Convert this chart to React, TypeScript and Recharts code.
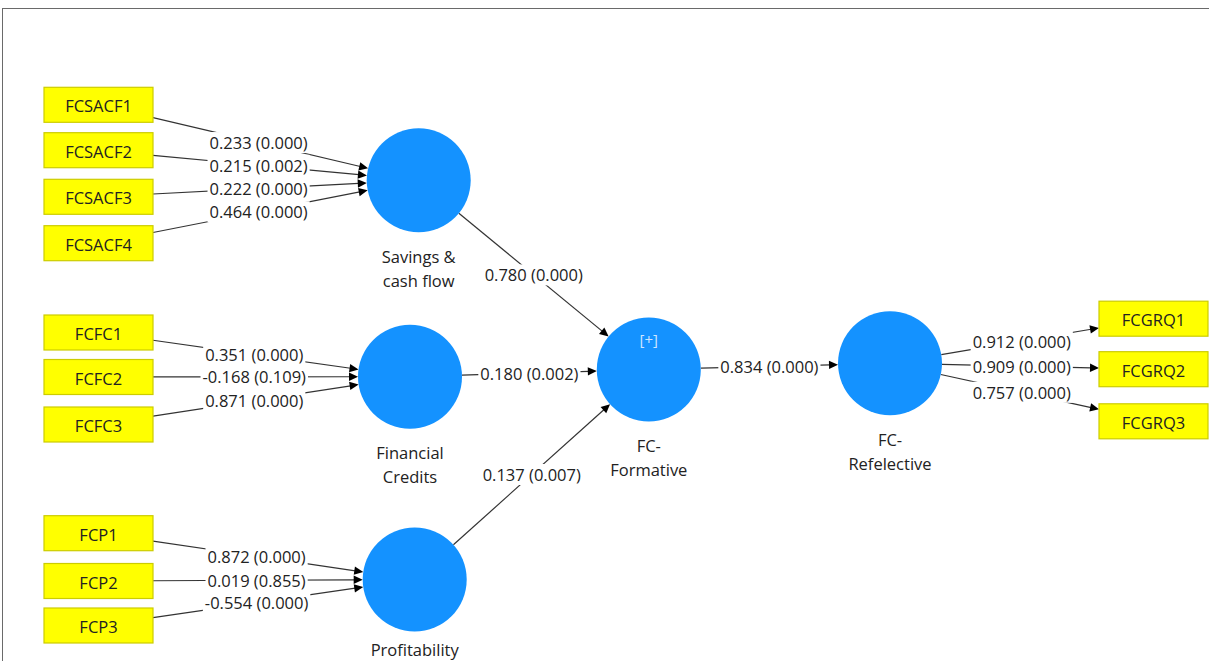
import React from 'react';
import { ScatterChart, Scatter, XAxis, YAxis, ReferenceLine } from 'recharts';

const W = 1209;
const H = 661;

// Indicator (manifest variable) boxes, layout units
const indicatorNames = ['FCSACF1', 'FCSACF2', 'FCSACF3', 'FCSACF4', 'FCFC1', 'FCFC2', 'FCFC3', 'FCP1', 'FCP2', 'FCP3', 'FCGRQ1', 'FCGRQ2', 'FCGRQ3'];
const indicatorX = [98.5, 98.5, 98.5, 98.5, 98.5, 98.5, 98.5, 98.5, 98.5, 98.5, 1153.5, 1153.5, 1153.5];
const indicatorY = [104.8, 150.2, 196.8, 243.2, 332.5, 377, 424.5, 533.2, 581, 625.5, 318.7, 369.2, 421.3];

// Constructs (latent variables)
const constructIds = ['SCF', 'FCR', 'PRO', 'FCF', 'FCRE'];
const constructLabels = [['Savings &', 'cash flow'], ['Financial', 'Credits'], ['Profitability'], ['FC-', 'Formative'], ['FC-', 'Refelective']];
const constructX = [418.7, 410, 414.7, 648.8, 890];
const constructY = [180.3, 376.7, 579.5, 369.5, 363.3];
const constructFormative = [false, false, false, true, false];

// Paths
const edgeFrom = ['FCSACF1', 'FCSACF2', 'FCSACF3', 'FCSACF4', 'FCFC1', 'FCFC2', 'FCFC3', 'FCP1', 'FCP2', 'FCP3', 'SCF', 'FCR', 'PRO', 'FCF', 'FCRE', 'FCRE', 'FCRE'];
const edgeTo = ['SCF', 'SCF', 'SCF', 'SCF', 'FCR', 'FCR', 'FCR', 'PRO', 'PRO', 'PRO', 'FCF', 'FCF', 'FCF', 'FCRE', 'FCGRQ1', 'FCGRQ2', 'FCGRQ3'];
const edgeWeights = ['0.233', '0.215', '0.222', '0.464', '0.351', '-0.168', '0.871', '0.872', '0.019', '-0.554', '0.780', '0.180', '0.137', '0.834', '0.912', '0.909', '0.757'];
const edgePValues = ['0.000', '0.002', '0.000', '0.000', '0.000', '0.109', '0.000', '0.000', '0.855', '0.000', '0.000', '0.002', '0.007', '0.000', '0.000', '0.000', '0.000'];

const FONT = '"Open Sans", "Noto Sans", sans-serif';
const FS = 16.5;
const TEXT = '#222';
const BOX_W = 109;
const BOX_H = 35;
const R = 52;

let ctx: CanvasRenderingContext2D | null = null;
function textWidth(s: string) {
  if (!ctx) {
    const c = document.createElement('canvas');
    ctx = c.getContext('2d');
  }
  if (!ctx) return s.length * 8.2;
  ctx.font = `${FS}px ${FONT}`;
  return ctx.measureText(s).width;
}

function nodeInfo(id: string) {
  const i = indicatorNames.indexOf(id);
  if (i >= 0) return { kind: 'box', x: indicatorX[i], y: indicatorY[i] };
  const j = constructIds.indexOf(id);
  return { kind: 'circle', x: constructX[j], y: constructY[j] };
}

function clipDist(kind: string, dx: number, dy: number) {
  if (kind === 'circle') return R;
  const tx = Math.abs(dx) > 1e-6 ? BOX_W / 2 / Math.abs(dx) : Infinity;
  const ty = Math.abs(dy) > 1e-6 ? BOX_H / 2 / Math.abs(dy) : Infinity;
  return Math.min(tx, ty);
}

const EdgeShape = (props: any) => {
  const { x1, y1, x2, y2, srcKind, dstKind, label } = props;
  if ([x1, y1, x2, y2].some((v) => typeof v !== 'number' || isNaN(v))) return <g />;
  const len = Math.hypot(x2 - x1, y2 - y1);
  const dx = (x2 - x1) / len;
  const dy = (y2 - y1) / len;
  const s0 = clipDist(srcKind, dx, dy);
  const e0 = clipDist(dstKind, dx, dy);
  const sx = x1 + dx * s0;
  const sy = y1 + dy * s0;
  const ex = x2 - dx * e0;
  const ey = y2 - dy * e0;
  const al = 9;
  const aw = 4.2;
  const bx = ex - dx * al;
  const by = ey - dy * al;
  const px = -dy;
  const py = dx;
  const mx = (x1 + x2) / 2;
  const my = (y1 + y2) / 2;
  const tw = textWidth(label);
  return (
    <g>
      <line x1={sx} y1={sy} x2={bx + dx * 1} y2={by + dy * 1} stroke="#333" strokeWidth={1.2} />
      <polygon
        points={`${ex},${ey} ${bx + px * aw},${by + py * aw} ${bx - px * aw},${by - py * aw}`}
        fill="#000"
      />
      <rect x={mx - tw / 2 - 2} y={my - 10.5} width={tw + 4} height={21} fill="#fff" />
      <text x={mx} y={my} textAnchor="middle" dominantBaseline="central" fontFamily={FONT} fontSize={FS} fill={TEXT}>
        {label}
      </text>
    </g>
  );
};

const BoxShape = (props: any) => {
  const { cx, cy, payload } = props;
  return (
    <g>
      <rect x={cx - BOX_W / 2} y={cy - BOX_H / 2} width={BOX_W} height={BOX_H} fill="#ffff00" stroke="#cccc00" strokeWidth={1.2} />
      <text x={cx} y={cy + 1} textAnchor="middle" dominantBaseline="central" fontFamily={FONT} fontSize={FS} fill={TEXT}>
        {payload.name}
      </text>
    </g>
  );
};

const CircleShape = (props: any) => {
  const { cx, cy, payload } = props;
  return (
    <g>
      <circle cx={cx} cy={cy} r={R} fill="#1492ff" />
      {payload.formative && (
        <text x={cx} y={cy - 31} textAnchor="middle" dominantBaseline="central" fontFamily={FONT} fontSize={15} fill="#cfe5ff">
          [+]
        </text>
      )}
      {payload.lines.map((l: string, k: number) => (
        <text
          key={k}
          x={cx}
          y={Math.min(cy + R + 24 + k * 24, H - 12)}
          textAnchor="middle"
          dominantBaseline="central"
          fontFamily={FONT}
          fontSize={FS}
          fill={TEXT}
        >
          {l}
        </text>
      ))}
    </g>
  );
};

const boxData = indicatorNames.map((n, i) => ({ name: n, x: indicatorX[i], y: indicatorY[i] }));
const circleData = constructIds.map((n, i) => ({
  name: n,
  x: constructX[i],
  y: constructY[i],
  lines: constructLabels[i],
  formative: constructFormative[i],
}));

export default function App() {
  return (
    <div style={{ position: 'absolute', left: 0, top: 0, width: W, height: H, background: '#fff', overflow: 'hidden' }}>
      <div
        style={{
          position: 'absolute',
          left: 2,
          top: 8,
          width: W,
          height: H,
          borderTop: '1px solid #6a6a6a',
          borderLeft: '1px solid #6a6a6a',
        }}
      />
      <div style={{ position: 'absolute', left: 0, top: 0 }}>
        <ScatterChart width={W} height={H} margin={{ top: 0, right: 0, bottom: 0, left: 0 }}>
          <XAxis type="number" dataKey="x" domain={[0, W]} hide allowDataOverflow />
          <YAxis type="number" dataKey="y" domain={[0, H]} reversed hide allowDataOverflow />
          {edgeFrom.map((f, i) => {
            const a = nodeInfo(f);
            const b = nodeInfo(edgeTo[i]);
            const label = `${edgeWeights[i]} (${edgePValues[i]})`;
            return (
              <ReferenceLine
                key={i}
                segment={[
                  { x: a.x, y: a.y },
                  { x: b.x, y: b.y },
                ]}
                ifOverflow="visible"
                shape={(p: any) => <EdgeShape {...p} srcKind={a.kind} dstKind={b.kind} label={label} />}
              />
            );
          })}
          <Scatter data={boxData} shape={BoxShape} isAnimationActive={false} />
          <Scatter data={circleData} shape={CircleShape} isAnimationActive={false} />
        </ScatterChart>
      </div>
    </div>
  );
}
